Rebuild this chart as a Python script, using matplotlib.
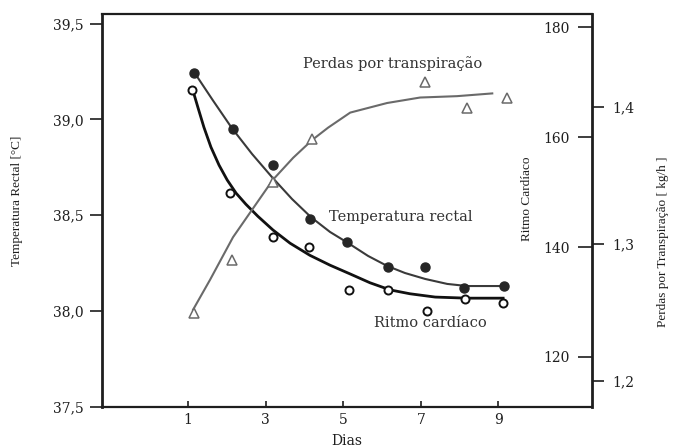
"""Temperatura rectal, ritmo cardíaco e perdas por transpiração ao longo dos dias"""
import matplotlib
matplotlib.use("Agg")
import matplotlib.pyplot as plt

# --- dados -------------------------------------------------------------------
dias_temp  = [1.15, 2.15, 3.2, 4.15, 5.1, 6.15, 7.1, 8.1, 9.15]
temp_pts   = [39.24, 38.95, 38.76, 38.48, 38.36, 38.23, 38.23, 38.12, 38.13]
temp_cx    = [1.18, 1.64, 2.13, 2.65, 3.16, 3.68, 4.17, 4.66, 5.12, 5.64,
              6.13, 6.59, 7.11, 7.68, 8.19, 9.12]
temp_cy    = [39.24, 39.10, 38.955, 38.82, 38.70, 38.585, 38.49, 38.413,
              38.356, 38.288, 38.236, 38.199, 38.168, 38.142, 38.131, 38.131]

dias_hr    = [1.10, 2.08, 3.19, 4.12, 5.15, 6.15, 7.16, 8.14, 9.12]
hr_pts     = [168.5, 149.8, 141.8, 140.0, 132.2, 132.2, 128.4, 130.5, 129.8]
hr_cx      = [1.13, 1.26, 1.41, 1.59, 1.80, 2.01, 2.24, 2.49, 2.80, 3.19,
              3.63, 4.14, 4.66, 5.18, 5.69, 6.21, 6.72, 7.37, 8.19, 9.12]
hr_cy      = [168.4, 165.3, 161.8, 158.2, 154.9, 152.2, 149.8, 147.8, 145.6,
              143.1, 140.7, 138.5, 136.7, 135.1, 133.5, 132.2, 131.5, 130.9,
              130.7, 130.7]

dias_tr    = [1.15, 2.13, 3.19, 4.2, 7.11, 8.19, 9.22]
tr_pts     = [1.250, 1.288, 1.345, 1.377, 1.418, 1.399, 1.407]
tr_cx      = [1.13, 1.57, 2.16, 2.65, 3.19, 3.71, 4.20, 4.61, 5.18, 6.13,
              6.98, 7.93, 8.84]
tr_cy      = [1.252, 1.274, 1.305, 1.325, 1.347, 1.363, 1.376, 1.385, 1.396,
              1.403, 1.407, 1.408, 1.410]

x_ticks      = [1, 3, 5, 7, 9]
temp_ticks   = [37.5, 38.0, 38.5, 39.0, 39.5]
temp_labels  = ["37,5", "38,0", "38,5", "39,0", "39,5"]
hr_ticks     = [120, 140, 160, 180]
tr_ticks     = [1.2, 1.3, 1.4]
tr_labels    = ["1,2", "1,3", "1,4"]

SERIF  = "DejaVu Serif"
TIMES  = "Liberation Serif"
INK    = "#1e1e1e"
GREY   = "#6a6a6a"

fig = plt.figure(figsize=(6.74, 4.48), dpi=100)
fig.patch.set_facecolor("white")
ax = fig.add_axes([102 / 674, 1 - 407 / 448, 490 / 674, 393 / 448])
ax_hr = ax.twinx()
ax_tr = ax.twinx()

# eixo esquerdo: temperatura
ax.set_xlim(-1.216, 11.41)
ax.set_ylim(37.5, 39.55)
ax.set_xticks(x_ticks)
ax.set_yticks(temp_ticks)
ax.set_yticklabels(temp_labels)
ax.tick_params(axis="y", direction="out", length=8.5, width=1.2, pad=5,
               colors=INK, labelsize=10)
ax.tick_params(axis="x", direction="in", length=4, width=1.2, pad=4,
               colors=INK, labelsize=10)
for lbl in ax.get_xticklabels() + ax.get_yticklabels():
    lbl.set_family(SERIF)
ax.set_xlabel("Dias", family=SERIF, fontsize=10, color=INK, labelpad=5)
ax.set_ylabel("Temperatura Rectal [°C]", family=TIMES, fontsize=9.5,
              color=INK)
ax.yaxis.set_label_coords(-0.161, 0.524)
for side in ["left", "right"]:
    ax.spines[side].set_linewidth(2.0)
for side in ["top", "bottom"]:
    ax.spines[side].set_linewidth(1.6)
for sp in ax.spines.values():
    sp.set_color(INK)

# eixo direito interno: ritmo cardíaco
ax_hr.set_ylim(110.9, 182.4)
ax_hr.set_yticks(hr_ticks)
ax_hr.tick_params(axis="y", direction="in", length=10, width=1.2, pad=-35,
                  colors=INK, labelsize=10)
for lbl in ax_hr.get_yticklabels():
    lbl.set_family(SERIF)
for sp in ax_hr.spines.values():
    sp.set_visible(False)
ax_hr.text(0.867, 0.53, "Ritmo Cardíaco", transform=ax_hr.transAxes,
           rotation=90, ha="center", va="center", family=TIMES,
           fontsize=9.5, color=INK)

# eixo direito externo: perdas por transpiração
ax_tr.set_ylim(1.181, 1.468)
ax_tr.set_yticks(tr_ticks)
ax_tr.set_yticklabels(tr_labels)
ax_tr.tick_params(axis="y", direction="out", length=8.5, width=1.2, pad=6,
                  colors=INK, labelsize=10)
for lbl in ax_tr.get_yticklabels():
    lbl.set_family(SERIF)
for sp in ax_tr.spines.values():
    sp.set_visible(False)
ax_tr.text(1.145, 0.42, "Perdas por Transpiração [ kg/h ]",
           transform=ax_tr.transAxes, rotation=90, ha="center", va="center",
           family=TIMES, fontsize=9.5, color=INK)

# curvas
ax.plot(temp_cx, temp_cy, color="#3a3a3a", lw=1.5, solid_joinstyle="round")
ax.plot(dias_temp, temp_pts, "o", ms=6.5, color="#262626", mec="#262626")

ax_hr.plot(hr_cx, hr_cy, color="#111111", lw=2.0, solid_joinstyle="round")
ax_hr.plot(dias_hr, hr_pts, "o", ms=5.8, mfc="white", mec="#111111", mew=1.4)

ax_tr.plot(tr_cx, tr_cy, color=GREY, lw=1.5, solid_joinstyle="round")
ax_tr.plot(dias_tr, tr_pts, "^", ms=6.5, mfc="white", mec=GREY, mew=1.1)

# anotações
ax.text(6.26, 39.29, "Perdas por transpiração", family=SERIF, fontsize=10.5,
        color="#333333", ha="center", va="center")
ax.text(6.49, 38.49, "Temperatura rectal", family=SERIF, fontsize=10.5,
        color="#333333", ha="center", va="center")
ax.text(7.24, 37.94, "Ritmo cardíaco", family=SERIF, fontsize=10.5,
        color="#333333", ha="center", va="center")

fig.savefig("out.png", dpi=100, facecolor="white")
